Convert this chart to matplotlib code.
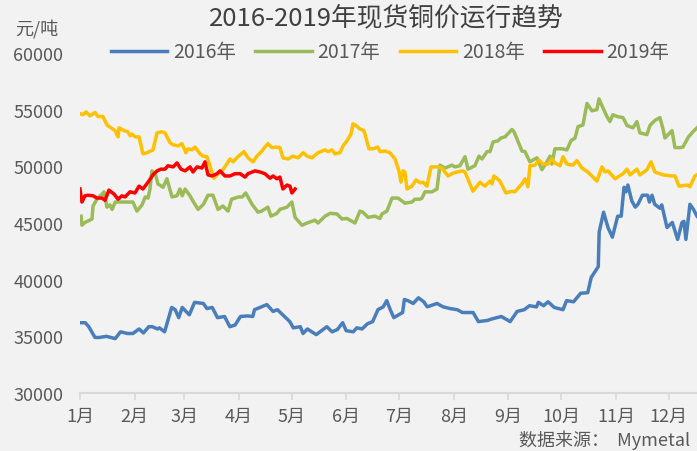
import matplotlib.pyplot as plt

plt.rcParams['font.family'] = ['Noto Sans CJK SC', 'DejaVu Sans']

# x = days since 1 Jan, y = price (yuan/t)
day16 = [0, 3, 5, 8.5, 11, 15, 20, 23, 27, 30, 33.5, 36, 39, 41, 44, 45, 48, 52, 54, 56, 58, 62, 65, 70, 72, 75,
         78, 82, 85, 88, 91, 95, 98, 99, 106, 109.5, 112, 116, 119, 121, 125, 126.5, 129, 134, 140, 143, 146, 149,
         151, 155, 157, 160, 163, 166, 169, 172, 174, 176, 178, 183, 184, 186, 189, 192, 195, 197, 202.5, 206, 210,
         214, 217, 223, 226, 231, 234, 239, 244, 246, 248, 252, 255, 259, 260, 263, 265.5, 269, 274, 276, 280, 284,
         288, 290, 294, 294.5, 297, 299.5, 302, 305, 307, 308.6, 309.7, 310.8, 313, 315, 316.5, 319, 322, 323, 324.5,
         326, 329, 330, 333, 336, 339, 341.5, 342.6, 343.7, 346, 348, 350]
cu16 = [36200, 36200, 35850, 34900, 34900, 35000, 34800, 35400, 35250, 35250, 35650, 35300, 35850, 35850, 35650,
        35750, 35400, 37550, 37350, 36650, 37550, 36900, 38000, 37900, 37450, 37550, 36650, 36750, 35850, 36000,
        36750, 36800, 36750, 37350, 37800, 37200, 37350, 36750, 36300, 35750, 35850, 35250, 35650, 35150, 35850,
        35400, 35600, 36200, 35500, 35400, 35750, 35650, 36100, 36300, 37350, 37600, 38150, 37350, 36650, 37100,
        38250, 38150, 37900, 38400, 38050, 37600, 37900, 37600, 37450, 37350, 37100, 37100, 36300, 36400, 36550,
        36750, 36300, 36750, 37200, 37350, 37700, 37600, 38000, 37700, 38050, 37550, 37350, 38150, 38050, 38800,
        38850, 40200, 41150, 44200, 45950, 44600, 43750, 45600, 45600, 48150, 47750, 48350, 46950, 46400, 46650,
        47450, 47450, 46850, 47450, 46650, 46300, 46600, 44600, 45050, 43550, 45050, 45150, 43550, 46650, 46200,
        45600]

day17 = [0.6, 1.1, 2.8, 6.8, 7.4, 9.6, 12.5, 13.6, 15.3, 17, 18.2, 20, 24, 30, 32.3, 35.2, 37, 38.6, 39.7, 40.8,
         43.1, 44.2, 47.1, 49.3, 52.2, 55, 56.7, 58, 59.6, 62.4, 64, 67, 70, 72.6, 75.4, 78.3, 81, 84, 86, 90, 92, 94,
         97.6, 101, 103, 106.6, 108.3, 111.7, 113.4, 117.4, 120.2, 122, 125.9, 128.8, 133.3, 135, 139, 141.8, 145.8,
         148.6, 151.4, 156, 158.8, 160.5, 163.4, 167.3, 170.2, 171.3, 174.1, 177, 180.4, 184.3, 188.3, 190, 192.9,
         194, 195.7, 199.7, 202.5, 204.2, 207, 211, 212.7, 215.5, 218.4, 220.1, 224, 226.3, 228, 230.9, 232.6, 234.3,
         237.1, 238.8, 241.1, 245, 246.2, 250.7, 252.4, 255.2, 259.2, 262, 264.9, 266.6, 267.7, 269.4, 273.4, 276.2,
         278.5, 280.8, 282.5, 285.3, 287.6, 290.4, 293.2, 294.4, 296.1, 298.9, 300.6, 302.3, 304.6, 308, 310.3,
         313.7, 315.9, 317.6, 321.6, 323.3, 326.1, 329, 330.7, 331.8, 335.8, 337.5, 340.3, 342, 345.2, 347.7, 350]
cu17 = [45600, 44800, 45050, 45350, 46500, 47100, 47550, 47750, 46400, 46600, 46200, 46850, 46850, 46850, 46050,
        46600, 47300, 47200, 48000, 49600, 49150, 48450, 48150, 48900, 47300, 47400, 48000, 47400, 48000, 47400,
        46950, 46200, 46650, 47450, 47450, 46200, 46500, 46050, 47100, 47300, 47300, 47650, 46650, 45950, 46050,
        46400, 45600, 45850, 46200, 46400, 46850, 45500, 44800, 45000, 45250, 45000, 45600, 45850, 45800, 45350,
        45400, 45000, 46050, 45950, 45500, 45600, 45400, 45800, 46050, 47200, 47200, 46750, 46850, 47100, 47100,
        47200, 47750, 47750, 48000, 50100, 49850, 50100, 49950, 50050, 50850, 49750, 50050, 50900, 50650, 51300,
        51300, 52150, 52250, 52500, 52600, 53250, 53050, 51350, 51300, 50400, 50750, 49700, 50400, 50900, 50200,
        51550, 51550, 51450, 52250, 52500, 53500, 53650, 55550, 54900, 55000, 55950, 55350, 54400, 53950, 54550,
        54400, 54300, 53600, 53400, 53950, 52950, 52800, 53600, 54050, 54300, 53300, 52500, 53150, 51650, 51650,
        51700, 52600, 53050, 53400]

day18 = [0, 1.7, 3.4, 5.7, 8.5, 10.2, 13, 15.3, 17.6, 19.9, 21.6, 22.1, 25, 27.2, 28.4, 29.5, 31.2, 33.5, 35.7, 38,
         41.4, 43.7, 46.5, 48.2, 51, 52.8, 55.6, 57.9, 60.1, 61.3, 63.5, 65.2, 68.1, 69.8, 72, 73.7, 76, 78.3, 80.5,
         82.2, 85.1, 86.8, 89.6, 93, 95.3, 98.1, 100.4, 103.2, 104.9, 106.6, 108.9, 111.7, 113.4, 115.1, 118, 120.8,
         123.7, 126.5, 128.8, 131.6, 135, 139, 140.7, 142.9, 144.6, 147.5, 149.2, 151.4, 153.7, 154.9, 156.5, 158.8,
         161.1, 163.9, 166.2, 169, 170.2, 173, 175.8, 178.7, 180.9, 182.1, 183.2, 184.3, 185.5, 188.3, 190.6, 192.9,
         194.6, 196.8, 199.1, 202.5, 205.3, 208.7, 211.6, 216.7, 218.4, 222.9, 226.9, 229.7, 232.6, 233.7, 234.8,
         238.2, 241.6, 245, 246.7, 250.7, 252.4, 254.1, 255.2, 258.1, 260.4, 262.6, 265.5, 267.7, 269.4, 272.3, 274,
         276.2, 279.6, 281.9, 284.7, 288.1, 293.2, 296.1, 297.8, 299.5, 303.5, 308, 310.3, 312, 315.9, 317.6, 321.6,
         323.9, 326.1, 330.7, 335.8, 337.5, 339.8, 344.6, 346, 348.8, 350]
cu18 = [54650, 54550, 54800, 54450, 54750, 54400, 54400, 53650, 53400, 53150, 52600, 53400, 53150, 53050, 52700,
        52850, 52600, 52600, 51100, 51200, 51450, 52950, 53050, 52950, 52100, 51900, 51800, 52000, 51200, 51550,
        51450, 51700, 51100, 50900, 50850, 50050, 48950, 49350, 49600, 49950, 50650, 50400, 50850, 51300, 50750,
        50400, 50900, 51350, 51700, 52000, 51650, 51700, 51650, 50750, 50650, 50900, 50750, 51200, 50900, 50750,
        51200, 51450, 51300, 51450, 51100, 51200, 51800, 52250, 52850, 53750, 53600, 53300, 53150, 51550, 51550,
        51700, 51300, 51350, 51200, 50650, 49600, 48600, 49600, 49500, 48000, 48250, 48800, 48550, 48600, 48250,
        49950, 49950, 49850, 49150, 49400, 49600, 49500, 47800, 48600, 48250, 48700, 48450, 49150, 48700, 47650,
        47800, 47750, 48450, 48900, 48200, 50050, 50100, 50550, 50200, 50200, 50650, 50300, 50050, 50850, 50200,
        50100, 50500, 49850, 49500, 48700, 49950, 49500, 49600, 48900, 49350, 49750, 49250, 49750, 49250, 49700,
        50400, 49500, 49250, 49150, 49150, 48250, 48350, 48200, 49150, 49250]

day19 = [0, 1.1, 2.8, 4.5, 7.4, 9.6, 12.5, 14.2, 16.4, 19.3, 21.6, 23.8, 25.5, 28.4, 31.2, 33.5, 35.7, 38.6, 41.4,
         43.7, 45.9, 48.2, 49.9, 52.8, 55, 57.3, 59.6, 62.4, 64.1, 66.4, 69.2, 70.9, 72.6, 74.9, 77.7, 79.4, 82.2,
         85.1, 87.9, 90.8, 93.6, 95.3, 99.3, 102.1, 104.9, 107.8, 109.5, 111.7, 113.4, 115.1, 117.4, 119.1, 120.2, 122]
cu19 = [48000, 46850, 47400, 47450, 47400, 47200, 47200, 47000, 47900, 47550, 47100, 47400, 47300, 47750, 47650,
        48250, 48000, 48600, 49250, 49600, 49750, 49750, 50050, 49950, 50300, 49750, 49600, 49950, 49500, 49950,
        49850, 50400, 49250, 49150, 49350, 49600, 49150, 49150, 49350, 49350, 49050, 49350, 49600, 49500, 49350,
        48950, 49150, 48900, 49050, 48000, 48350, 48250, 47650, 48000]

month_days = [0, 31, 59, 90, 120, 151, 181, 212, 243, 273, 304, 334]
month_labels = ['1月', '2月', '3月', '4月', '5月', '6月', '7月', '8月', '9月', '10月', '11月', '12月']

bg = '#f2f2f2'
txt = '#595959'
fig = plt.figure(figsize=(6.97, 4.52), dpi=100, facecolor=bg)
ax = fig.add_axes([80 / 697, 58 / 452, 617 / 697, 340 / 452], facecolor=bg)

lw = 2.5
ax.plot(day16, cu16, color='#4a7ebb', lw=lw, label='2016年')
ax.plot(day17, cu17, color='#9bbb59', lw=lw, label='2017年')
ax.plot(day18, cu18, color='#ffc000', lw=lw, label='2018年')
ax.plot(day19, cu19, color='#ff0000', lw=lw, label='2019年')

ax.set_xlim(0, 350)
ax.set_ylim(30000, 60000)
ax.set_yticks(range(30000, 60001, 5000))
ax.set_xticks(month_days)
ax.set_xticklabels(month_labels)
ax.tick_params(axis='y', length=0, pad=12, labelsize=13, labelcolor=txt)
ax.tick_params(axis='x', length=5, width=1.2, color='#d9d9d9', pad=5, labelsize=13, labelcolor=txt)
for s in ['left', 'top', 'right']:
    ax.spines[s].set_visible(False)
ax.spines['bottom'].set_color('#d9d9d9')
ax.spines['bottom'].set_linewidth(1.5)

fig.text(386 / 697, 1 - 18 / 452, '2016-2019年现货铜价运行趋势', ha='center', va='center', fontsize=18.5, color='#404040')
fig.text(37 / 697, 1 - 29 / 452, '元/吨', ha='center', va='center', fontsize=13, color=txt)
fig.legend(loc='center', bbox_to_anchor=(390 / 697, 1 - 53 / 452), ncol=4, frameon=False, fontsize=14,
           handlelength=2.9, handletextpad=0.3, columnspacing=1.0, labelcolor=txt)
fig.text(690 / 697, 1 - 440 / 452, '数据来源：  Mymetal', ha='right', va='center', fontsize=13, color=txt)

plt.savefig('out.png', dpi=100, facecolor=bg)
